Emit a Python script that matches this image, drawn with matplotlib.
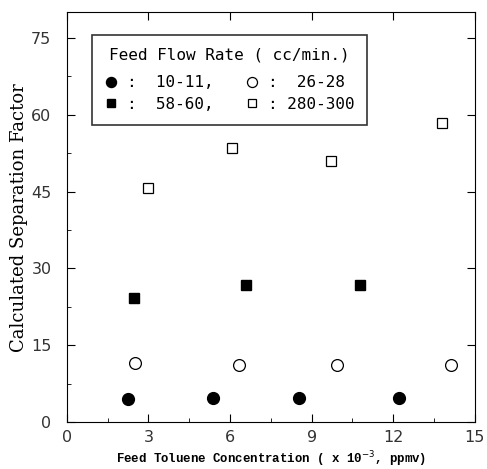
import numpy as np
import matplotlib.pyplot as plt
from matplotlib.ticker import MultipleLocator

# Feed toluene concentration (x 10^-3 ppmv) and separation factor per flow rate
x_10_11 = [2.26, 5.39, 8.53, 12.22]
y_10_11 = [4.6, 4.7, 4.7, 4.7]
x_26_28 = [2.51, 6.33, 9.92, 14.11]
y_26_28 = [11.6, 11.2, 11.2, 11.2]
x_58_60 = [2.47, 6.59, 10.77]
y_58_60 = [24.3, 26.7, 26.8]
x_280_300 = [3.0, 6.06, 9.71, 13.81]
y_280_300 = [45.6, 53.4, 51.0, 58.3]

fig = plt.figure(figsize=(4.87, 4.69), dpi=100)
ax = fig.add_axes([0.137, 0.100, 0.838, 0.874])

h1, = ax.plot(x_10_11, y_10_11, 'o', color='black', ms=8.5, ls='none')
h2, = ax.plot(x_26_28, y_26_28, 'o', mfc='white', mec='black', mew=0.9, ms=8.5, ls='none')
h3, = ax.plot(x_58_60, y_58_60, 's', color='black', ms=7.3, ls='none')
h4, = ax.plot(x_280_300, y_280_300, 's', mfc='white', mec='black', mew=0.9, ms=7.2, ls='none')

ax.set_xlim(0, 15)
ax.set_ylim(0, 80)
ax.xaxis.set_major_locator(MultipleLocator(3))
ax.xaxis.set_minor_locator(MultipleLocator(1.5))
ax.yaxis.set_major_locator(MultipleLocator(15))
ax.yaxis.set_minor_locator(MultipleLocator(7.5))
ax.tick_params(which='both', direction='in', top=True, right=True, labelsize=11.5)
ax.tick_params(axis='x', pad=6)
ax.tick_params(axis='y', pad=11)
ax.tick_params(which='major', length=6)
ax.tick_params(which='minor', length=3, top=False, right=False)
for lab in ax.get_xticklabels() + ax.get_yticklabels():
    lab.set_color('#333333')

ax.set_ylabel('Calculated Separation Factor', family='DejaVu Serif', fontsize=13, labelpad=2)
ax.set_xlabel(r'Feed Toluene Concentration ( x 10$^{-3}$, ppmv)', family='Liberation Mono',
              fontweight='bold', fontsize=8.9, labelpad=3)

leg = ax.legend([h1, h3, h2, h4], [':  10-11,', ':  58-60,', ':  26-28', ': 280-300'],
                ncol=2, title='Feed Flow Rate ( cc/min.)', loc='upper left',
                bbox_to_anchor=(0.061, 0.944), borderaxespad=0,
                prop={'family': 'DejaVu Sans Mono', 'size': 11.5},
                title_fontproperties={'family': 'DejaVu Sans Mono', 'size': 11.5},
                frameon=True, fancybox=False, edgecolor='black', handletextpad=0.6,
                columnspacing=2.0, handlelength=0.8, borderpad=0.8, labelspacing=0.4,
                markerscale=0.85)
leg.get_frame().set_linewidth(1.2)
# a bit more room between the title and the rows
leg._legend_box.sep = 9

fig.savefig('out.png', dpi=100)
